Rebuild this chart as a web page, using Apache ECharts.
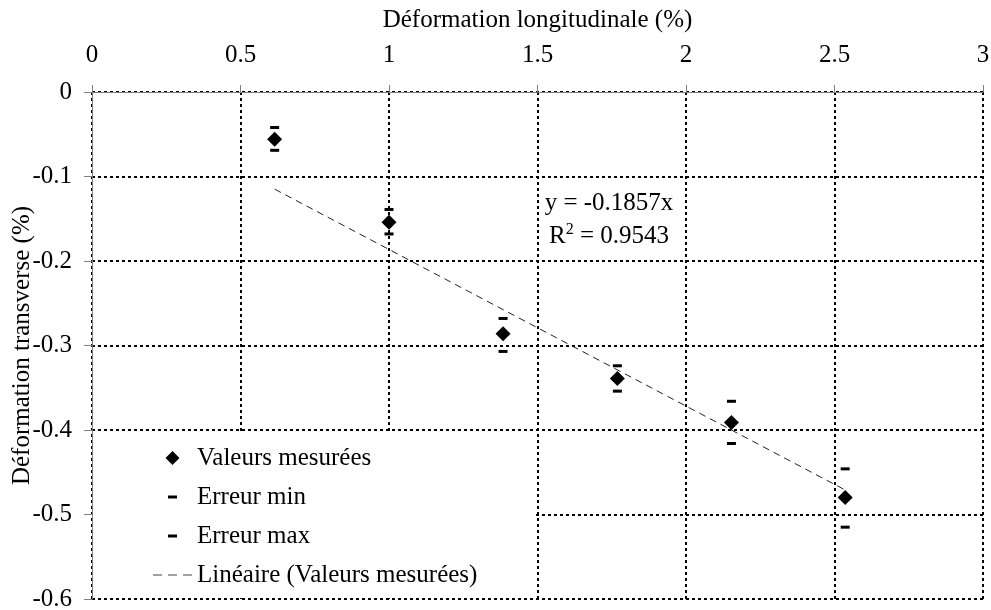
<!DOCTYPE html>
<html>
<head>
<meta charset="utf-8">
<script src="https://cdn.jsdelivr.net/npm/echarts@6/dist/echarts.min.js"></script>
<style>html,body{margin:0;padding:0;background:#fff}#c{width:991px;height:610px}</style>
</head>
<body>
<div id="c"></div>
<script>
// Data
var xVals = [0.615, 1.0, 1.384, 1.769, 2.153, 2.536];
var yVals = [-0.056, -0.154, -0.286, -0.339, -0.391, -0.480];
var yErrMin = [-0.069, -0.168, -0.307, -0.354, -0.416, -0.515];
var yErrMax = [-0.042, -0.139, -0.268, -0.324, -0.366, -0.446];
var trendX = [0.615, 2.536];
var trendY = [-0.115, -0.471];
var seriesNames = ['Valeurs mesurées', 'Erreur min', 'Erreur max', 'Linéaire (Valeurs mesurées)'];
var xTitle = 'Déformation longitudinale (%)';
var yTitle = 'Déformation transverse (%)';
var eqText = 'y = -0.1857x';
var r2Value = '0.9543';

function pairs(xs, ys) { return xs.map(function (x, i) { return [x, ys[i]]; }); }

var FONT = '"Liberation Serif", "Times New Roman", serif';
var FS = 25;
var chart = echarts.init(document.getElementById('c'), null, { renderer: 'canvas' });
var grid = { left: 92, right: 8, top: 92, bottom: 11, containLabel: false, outerBoundsMode: 'none' };
var gridLine = { show: true, lineStyle: { color: '#000', width: 2, type: [3, 3] } };

chart.setOption({
  animation: false,
  backgroundColor: '#fff',
  textStyle: { fontFamily: FONT },
  grid: grid,
  xAxis: {
    type: 'value', position: 'top', min: 0, max: 3, interval: 0.5,
    name: xTitle, nameLocation: 'middle', nameGap: 59, nameMoveOverlap: false,
    nameTextStyle: { fontFamily: FONT, fontSize: FS, color: '#000' },
    axisLine: { show: true, onZero: false, lineStyle: { color: '#808080', width: 1 } },
    axisTick: { show: true, inside: false, length: 7, lineStyle: { color: '#808080' } },
    axisLabel: { fontFamily: FONT, fontSize: FS, color: '#000', margin: 24 },
    splitLine: gridLine
  },
  yAxis: {
    type: 'value', min: -0.6, max: 0, interval: 0.1,
    name: yTitle, nameLocation: 'middle', nameGap: 57, nameRotate: 90, nameMoveOverlap: false,
    nameTextStyle: { fontFamily: FONT, fontSize: FS, color: '#000' },
    axisLine: { show: true, onZero: false, lineStyle: { color: '#808080', width: 1 } },
    axisTick: { show: true, inside: false, length: 8, lineStyle: { color: '#808080' } },
    axisLabel: { fontFamily: FONT, fontSize: FS, color: '#000', margin: 20 },
    splitLine: gridLine
  },
  legend: {
    orient: 'vertical', left: 153, top: 445.5, itemWidth: 39, itemHeight: 14, itemGap: 14,
    selectedMode: false, padding: 0,
    textStyle: { fontFamily: FONT, fontSize: FS, lineHeight: 25, color: '#000' },
    data: [
      { name: seriesNames[0], icon: 'path://M0,0M39,14M19.5,0L26.5,7L19.5,14L12.5,7Z', itemStyle: { color: '#000', opacity: 1 } },
      { name: seriesNames[1], icon: 'path://M0,0M39,14M15,5.5H24V8.5H15Z', itemStyle: { color: '#000', opacity: 1 } },
      { name: seriesNames[2], icon: 'path://M0,0M39,14M15,5.5H24V8.5H15Z', itemStyle: { color: '#000', opacity: 1 } },
      { name: seriesNames[3], icon: 'path://M0,0M39,14M0,6.5H9V7.5H0ZM15,6.5H24V7.5H15ZM30,6.5H39V7.5H30Z', itemStyle: { color: '#444', opacity: 1 } }
    ]
  },
  graphic: {
    elements: [
      { type: 'rect', z: 1, silent: true, shape: { x: 93, y: 433, width: 442, height: 165 }, style: { fill: '#fff' } },
      { type: 'text', z: 5, style: { text: eqText, x: 609, y: 203, align: 'center', verticalAlign: 'middle', fontFamily: FONT, fontSize: FS, fill: '#000' } },
      { type: 'text', z: 5, style: { text: '{n|R}{s|2}{n| = ' + r2Value + '}', x: 609, y: 236, align: 'center', verticalAlign: 'middle',
          fontFamily: FONT, fontSize: FS, fill: '#000',
          rich: { n: { fontFamily: FONT, fontSize: FS, lineHeight: 29, fill: '#000' }, s: { fontFamily: FONT, fontSize: 16, lineHeight: 16, verticalAlign: 'top', fill: '#000' } } } }
    ]
  },
  series: [
    { name: seriesNames[0], type: 'scatter', symbol: 'diamond', symbolSize: 15, z: 4,
      itemStyle: { color: '#000', opacity: 1 }, data: pairs(xVals, yVals) },
    { name: seriesNames[1], type: 'scatter', symbol: 'rect', symbolSize: [9, 3], z: 4,
      itemStyle: { color: '#000', opacity: 1 }, data: pairs(xVals, yErrMin) },
    { name: seriesNames[2], type: 'scatter', symbol: 'rect', symbolSize: [9, 3], z: 4,
      itemStyle: { color: '#000', opacity: 1 }, data: pairs(xVals, yErrMax) },
    { name: seriesNames[3], type: 'line', symbol: 'none', z: 3, silent: true,
      lineStyle: { color: '#222', width: 1, type: [7, 5] }, itemStyle: { color: '#222' },
      data: pairs(trendX, trendY) }
  ]
});
</script>
</body>
</html>
